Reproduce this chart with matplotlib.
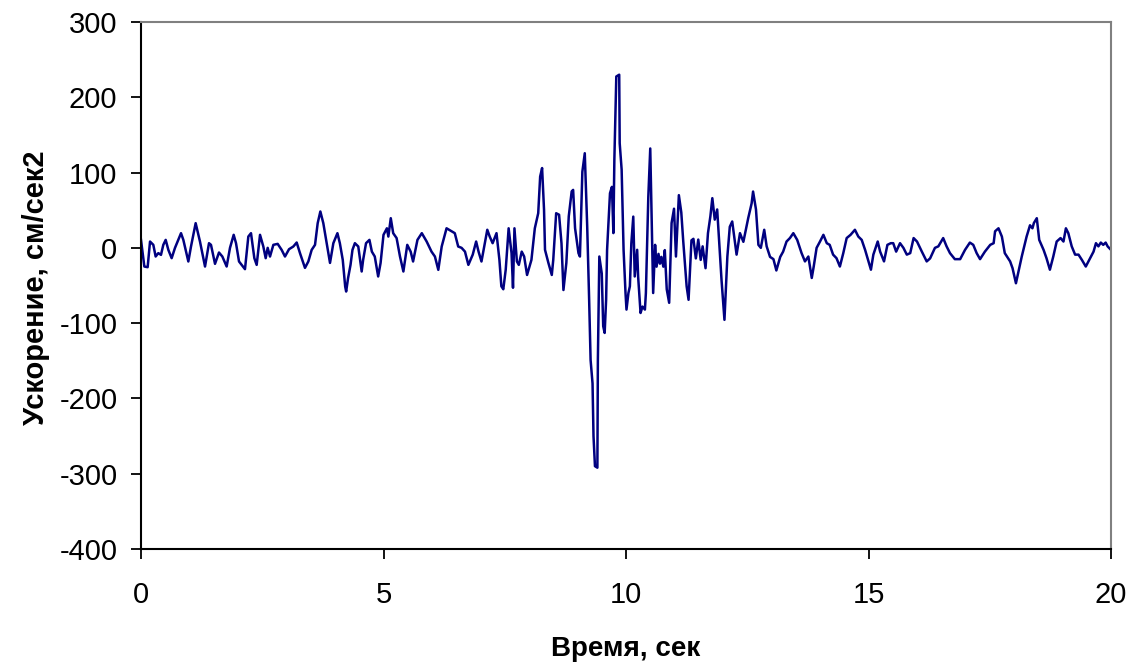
import matplotlib
matplotlib.use("Agg")
import matplotlib.pyplot as plt
import numpy as np

plt.rcParams['font.family'] = ['Liberation Sans', 'DejaVu Sans']
plt.rcParams['axes.unicode_minus'] = False

# --- data: time (s) and acceleration (cm/s^2) ---
t_pre = [0.000, 0.069, 0.137, 0.186, 0.254, 0.302, 0.357, 0.412, 0.460, 0.509,
         0.564, 0.632, 0.701, 0.825, 0.873, 0.976, 1.031, 1.127, 1.216, 1.320,
         1.402, 1.443, 1.526, 1.608, 1.677, 1.766, 1.835, 1.911, 1.959, 2.021,
         2.144, 2.213, 2.268, 2.337, 2.385, 2.454, 2.522, 2.571, 2.612, 2.660,
         2.729, 2.818, 2.900, 2.969, 3.052, 3.141, 3.210, 3.278, 3.381, 3.450,
         3.519, 3.588, 3.643, 3.698, 3.759, 3.828, 3.897, 3.966, 4.05, 4.10,
         4.16, 4.21, 4.23, 4.27, 4.32, 4.36, 4.41, 4.48, 4.55, 4.58,
         4.64, 4.71, 4.76, 4.82, 4.89, 4.94, 5.00, 5.07, 5.10, 5.15,
         5.20, 5.27, 5.34, 5.41, 5.49, 5.56, 5.61, 5.70, 5.79, 5.89,
         5.99, 6.06, 6.13, 6.20, 6.30, 6.41, 6.47, 6.54, 6.61, 6.68,
         6.75, 6.84, 6.91, 6.96, 7.02, 7.09, 7.14, 7.19, 7.25, 7.33,
         7.39, 7.43, 7.47, 7.52, 7.58, 7.64, 7.67, 7.70, 7.75, 7.79,
         7.85, 7.90, 7.96]
a_pre = [10.6, -24.8, -25.7, 8.4, 4, -11.5, -7, -9.3, 4, 10.6,
         -2.7, -13.7, 0, 19.5, 10.6, -18.1, 1.8, 32.8, 8.4, -24.8,
         6.2, 4, -21.2, -6.2, -11.5, -24.8, 0, 17.3, 6.2, -18.1,
         -28.3, 15, 19.5, -13.7, -22.6, 17.3, 1.8, -13.7, 0, -11.5,
         4, 5.3, -2.7, -11.5, -1.8, 1.8, 7.1, -7, -26.6, -18.1,
         -2.7, 4, 32.8, 48.3, 32.8, 6.2, -20, 6.2, 19.5, 6.2,
         -16, -51.4, -58, -40, -22.6, -2.7, 6.2, 1.8, -31.4, -16,
         6.2, 10.6, -5, -11.5, -38, -20, 17.3, 26, 15, 39.4,
         19.5, 13, -11.5, -31.4, 4, -5, -18.1, 10.6, 19.5, 8.4,
         -5, -11.5, -29.2, 1.8, 26, 21.7, 19.5, 1.8, 0, -5,
         -22.6, -9, 8.4, -5, -18.1, 6.2, 24, 15, 6.2, 19.5,
         -16, -51, -55, -29, 26, -7, -53, 26, -18, -22.6,
         -5, -11.5, -36]

t_strong = [8.05, 8.12, 8.19, 8.23, 8.27, 8.31, 8.33, 8.40, 8.47, 8.50,
            8.56, 8.62, 8.67, 8.71, 8.77, 8.82, 8.88, 8.91, 8.95, 9.02,
            9.05, 9.10, 9.15, 9.20, 9.24, 9.27, 9.31, 9.33, 9.36, 9.41,
            9.42, 9.45, 9.50, 9.53, 9.56, 9.59, 9.61, 9.67, 9.71, 9.74,
            9.76, 9.80, 9.86, 9.87, 9.91, 9.95, 9.99, 10.01, 10.05, 10.08,
            10.11, 10.15, 10.18, 10.23, 10.25, 10.30, 10.34, 10.39, 10.41, 10.46,
            10.50, 10.53, 10.56, 10.60, 10.63, 10.67, 10.70, 10.73, 10.77, 10.80,
            10.84, 10.89, 10.94, 10.99, 11.03, 11.09, 11.14, 11.18, 11.21, 11.25,
            11.29, 11.35, 11.39, 11.44, 11.49, 11.54, 11.58, 11.64, 11.69, 11.74,
            11.78, 11.83, 11.88, 11.92, 11.97, 12.03, 12.09, 12.14, 12.19, 12.28,
            12.35, 12.42, 12.52, 12.59, 12.62, 12.68, 12.73, 12.78, 12.85, 12.90]
a_strong = [-16, 26, 46, 94.7, 106, 50.5, -2.6, -20, -36, -16,
            46, 44, 6, -56, -20, 42, 75, 77, 26, -7,
            -11.5, 101, 125.7, 28.6, -69, -149, -180, -250, -290, -292,
            -149, -11.5, -34, -104, -113, -69, -2.6, 72.6, 81, 19.6,
            117, 227.6, 230, 139, 104, -2.6, -60, -82, -60, -51,
            6, 41.5, -38, -2.6, -38, -86.5, -78, -82, -60, 68,
            132, 33, -60, 4, -25, -8, -21, -12, -25, -3,
            -55, -73, 33, 52, -11.5, 70, 47, 9, -16, -51,
            -69, 10, 12, -14, 11, -16, 2, -27, 19.5, 42,
            66, 37.5, 51, 10, -43, -95.6, -11.5, 28, 35, -9,
            19.5, 8, 39.5, 59, 74.8, 51, 4, 0, 24, 2]

t_post = [12.97, 13.04, 13.10, 13.18, 13.24, 13.31, 13.38, 13.45, 13.53, 13.62,
          13.69, 13.76, 13.83, 13.87, 13.93, 14.00, 14.07, 14.14, 14.20, 14.27,
          14.34, 14.41, 14.48, 14.55, 14.63, 14.72, 14.79, 14.86, 14.93, 15.00,
          15.05, 15.10, 15.19, 15.24, 15.32, 15.39, 15.46, 15.51, 15.57, 15.65,
          15.72, 15.79, 15.86, 15.93, 16.00, 16.10, 16.20, 16.27, 16.37, 16.44,
          16.54, 16.61, 16.68, 16.78, 16.89, 16.99, 17.09, 17.16, 17.23, 17.30,
          17.40, 17.51, 17.58, 17.61, 17.68, 17.75, 17.81, 17.92, 17.97, 18.04,
          18.16, 18.26, 18.33, 18.38, 18.41, 18.47, 18.52, 18.61, 18.67, 18.74,
          18.81, 18.88, 18.96, 19.02, 19.07, 19.12, 19.19, 19.26, 19.33, 19.40,
          19.48, 19.57, 19.64, 19.69, 19.74, 19.79, 19.84, 19.89, 19.93, 20.00]
a_post = [-12, -15, -30, -12, -5, 8.4, 13, 19.5, 10.6, -7,
          -18, -11.5, -40, -25, 0, 8.4, 17.3, 6.2, 4, -9,
          -13.7, -24.8, -7, 13, 17.3, 24, 15, 10.6, -2.7, -18,
          -29, -9, 8.4, -5, -18, 4, 6.2, 6.2, -5, 6.2,
          0, -9, -7, 13, 8.4, -5, -18, -14, 0, 2,
          13, 2, -7, -15, -15, -2.7, 7, 4, -7, -15,
          -5, 4, 6.2, 22, 26, 15, -7, -18, -27, -47,
          -11.5, 15, 30, 26, 33, 39.4, 10.6, -2.7, -13.7, -29,
          -11.5, 8.4, 13, 8.4, 26, 19.5, 2, -9, -9, -16,
          -24.8, -13.7, -5, 6.2, 2, 7, 4, 7, 2, -2.7]

x_ticks = [0, 5, 10, 15, 20]
y_ticks = [300, 200, 100, 0, -100, -200, -300, -400]
x_label = "Время, сек"
y_label = "Ускорение, см/сек2"

t = np.array(t_pre + t_strong + t_post)
a = np.array(a_pre + a_strong + a_post)

fig = plt.figure(figsize=(11.35, 6.63), dpi=100)
ax = fig.add_axes([141 / 1135, 1 - 549 / 663, (1111 - 141) / 1135, (549 - 22) / 663])
ax.plot(t, a, color='#000080', lw=1.8)

ax.set_xlim(0, 20)
ax.set_ylim(-400, 300)
ax.set_xticks(x_ticks)
ax.set_yticks(y_ticks)
ax.tick_params(axis='both', direction='out', length=7, width=1.3, labelsize=21)
ax.tick_params(axis='x', pad=16)
ax.tick_params(axis='y', pad=10)

for side in ('left', 'bottom'):
    ax.spines[side].set_color('black')
    ax.spines[side].set_linewidth(1.5)
for side in ('top', 'right'):
    ax.spines[side].set_color('#808080')
    ax.spines[side].set_linewidth(1.5)

ax.set_xlabel(x_label, fontsize=20, fontweight='bold')
ax.set_ylabel(y_label, fontsize=21, fontweight='bold')
ax.xaxis.set_label_coords(0.5, -(636 - 549) / 527)
ax.yaxis.set_label_coords(-(141 - 50) / 970, 0.5 - (288 - 285.5) / 527)

fig.savefig('out.png', dpi=100)
